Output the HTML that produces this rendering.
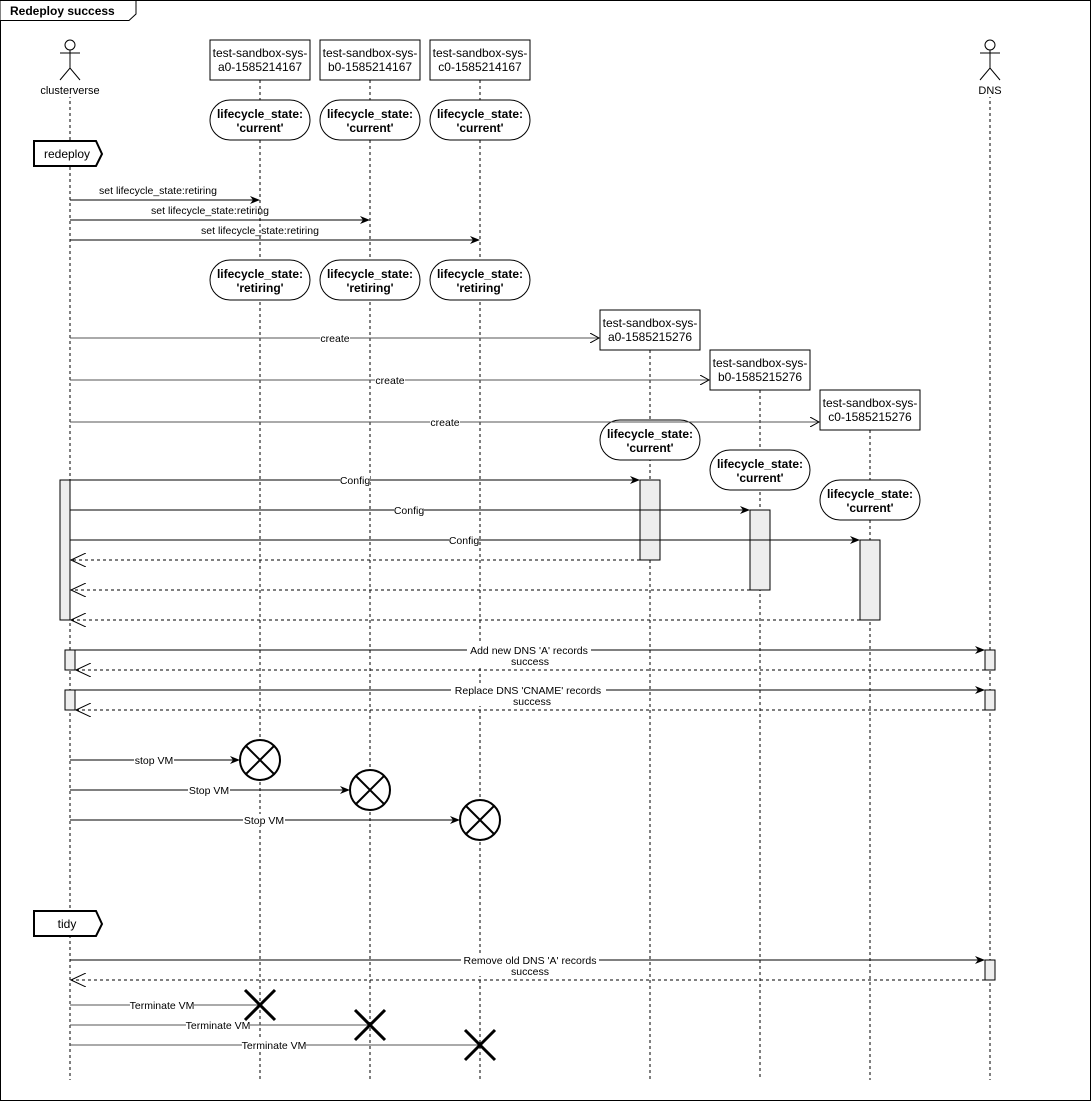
<!DOCTYPE html>
<html><head><meta charset="utf-8"><style>
html,body{margin:0;padding:0;background:#fff}
svg{display:block}
text{font-family:"Liberation Sans",sans-serif;font-size:11px;fill:#000}
.b{font-weight:bold;font-size:12px}
.lab{font-size:10.5px}
</style></head><body>
<svg width="1091" height="1101" viewBox="0 0 1091 1101" xmlns="http://www.w3.org/2000/svg">
<defs>
<marker id="fa" markerWidth="10" markerHeight="8" refX="9" refY="4" orient="auto" markerUnits="userSpaceOnUse"><path d="M0,0 L10,4 L0,8 L3,4 Z" fill="#000"/></marker>
<marker id="oa" markerWidth="10" markerHeight="10" refX="9" refY="5" orient="auto" markerUnits="userSpaceOnUse"><path d="M0,0 L9,5 L0,10" fill="none" stroke="#000" stroke-width="1"/></marker>
<marker id="ra" markerWidth="16" markerHeight="14" refX="15" refY="7" orient="auto" markerUnits="userSpaceOnUse"><path d="M0,0 L15,7 L0,14" fill="none" stroke="#000" stroke-width="1"/></marker>
</defs>
<rect x="0.5" y="0.5" width="1090" height="1100" fill="#fff" stroke="#000"/>
<path d="M0.5,0.5 H136 V14 L129,20.5 H0.5" fill="#fff" stroke="#000"/>
<text x="10" y="15" class="b">Redeploy success</text>

<g stroke="#000" stroke-dasharray="3,3" fill="none">
<line x1="70" y1="95" x2="70" y2="1080"/>
<line x1="990" y1="95" x2="990" y2="1080"/>
<line x1="260" y1="80" x2="260" y2="1080"/>
<line x1="370" y1="80" x2="370" y2="1080"/>
<line x1="480" y1="80" x2="480" y2="1080"/>
<line x1="650" y1="350" x2="650" y2="1080"/>
<line x1="760" y1="390" x2="760" y2="1080"/>
<line x1="870" y1="430" x2="870" y2="1080"/>
</g>

<g stroke="#000" fill="#fff">
<circle cx="70" cy="45" r="5"/><line x1="70" y1="50" x2="70" y2="68"/><line x1="60" y1="53" x2="80" y2="53"/><path d="M60,80 L70,68 L80,80" fill="none"/>
<circle cx="990" cy="45" r="5"/><line x1="990" y1="50" x2="990" y2="68"/><line x1="980" y1="53" x2="1000" y2="53"/><path d="M980,80 L990,68 L1000,80" fill="none"/>
</g>
<rect x="40" y="84" width="60" height="13" fill="#fff"/>
<text x="70" y="94" text-anchor="middle">clusterverse</text>
<rect x="975" y="84" width="30" height="13" fill="#fff"/>
<text x="990" y="94" text-anchor="middle">DNS</text>

<g fill="#fff" stroke="#000">
<rect x="210" y="40" width="100" height="40"/><rect x="320" y="40" width="100" height="40"/><rect x="430" y="40" width="100" height="40"/>
<rect x="600" y="310" width="100" height="40"/><rect x="710" y="350" width="100" height="40"/><rect x="820" y="390" width="100" height="40"/>
</g>
<g text-anchor="middle">
<text x="260" y="57" style="font-size:12px">test-sandbox-sys-</text><text x="260" y="71" style="font-size:12px">a0-1585214167</text>
<text x="370" y="57" style="font-size:12px">test-sandbox-sys-</text><text x="370" y="71" style="font-size:12px">b0-1585214167</text>
<text x="480" y="57" style="font-size:12px">test-sandbox-sys-</text><text x="480" y="71" style="font-size:12px">c0-1585214167</text>
<text x="650" y="327" style="font-size:12px">test-sandbox-sys-</text><text x="650" y="341" style="font-size:12px">a0-1585215276</text>
<text x="760" y="367" style="font-size:12px">test-sandbox-sys-</text><text x="760" y="381" style="font-size:12px">b0-1585215276</text>
<text x="870" y="407" style="font-size:12px">test-sandbox-sys-</text><text x="870" y="421" style="font-size:12px">c0-1585215276</text>
</g>

<g fill="#fff" stroke="#000">
<rect x="210" y="100" width="100" height="40" rx="20"/><rect x="320" y="100" width="100" height="40" rx="20"/><rect x="430" y="100" width="100" height="40" rx="20"/>
<rect x="210" y="260" width="100" height="40" rx="20"/><rect x="320" y="260" width="100" height="40" rx="20"/><rect x="430" y="260" width="100" height="40" rx="20"/>
<rect x="600" y="420" width="100" height="40" rx="20"/><rect x="710" y="450" width="100" height="40" rx="20"/><rect x="820" y="480" width="100" height="40" rx="20"/>
</g>
<g text-anchor="middle">
<text class="b" x="260" y="118">lifecycle_state:</text><text class="b" x="260" y="132">'current'</text>
<text class="b" x="370" y="118">lifecycle_state:</text><text class="b" x="370" y="132">'current'</text>
<text class="b" x="480" y="118">lifecycle_state:</text><text class="b" x="480" y="132">'current'</text>
<text class="b" x="260" y="278">lifecycle_state:</text><text class="b" x="260" y="292">'retiring'</text>
<text class="b" x="370" y="278">lifecycle_state:</text><text class="b" x="370" y="292">'retiring'</text>
<text class="b" x="480" y="278">lifecycle_state:</text><text class="b" x="480" y="292">'retiring'</text>
<text class="b" x="650" y="438">lifecycle_state:</text><text class="b" x="650" y="452">'current'</text>
<text class="b" x="760" y="468">lifecycle_state:</text><text class="b" x="760" y="482">'current'</text>
<text class="b" x="870" y="498">lifecycle_state:</text><text class="b" x="870" y="512">'current'</text>
</g>

<g fill="#fff" stroke="#000" stroke-width="2">
<path d="M34,141 H96 L102,154 L96,166 H34 Z"/>
<path d="M34,911 H96 L102,924 L96,936 H34 Z"/>
</g>
<text x="67" y="158" text-anchor="middle" style="font-size:12px">redeploy</text>
<text x="67" y="928" text-anchor="middle" style="font-size:12px">tidy</text>

<g stroke="#000" fill="none">
<line x1="70" y1="200" x2="259" y2="200" marker-end="url(#fa)"/>
<line x1="70" y1="220" x2="369" y2="220" marker-end="url(#fa)"/>
<line x1="70" y1="240" x2="479" y2="240" marker-end="url(#fa)"/>
</g>
<text class="lab" x="158" y="194" text-anchor="middle">set lifecycle_state:retiring</text>
<text class="lab" x="210" y="214" text-anchor="middle">set lifecycle_state:retiring</text>
<text class="lab" x="260" y="234" text-anchor="middle">set lifecycle_state:retiring</text>

<g stroke="#555" fill="none">
<line x1="70" y1="338" x2="599" y2="338" marker-end="url(#oa)"/>
<line x1="70" y1="380" x2="709" y2="380" marker-end="url(#oa)"/>
<line x1="70" y1="422" x2="819" y2="422" marker-end="url(#oa)"/>
</g>
<rect x="320" y="332" width="30" height="12" fill="#fff"/><text class="lab" x="335" y="342" text-anchor="middle">create</text>
<rect x="375" y="374" width="30" height="12" fill="#fff"/><text class="lab" x="390" y="384" text-anchor="middle">create</text>
<rect x="430" y="416" width="30" height="12" fill="#fff"/><text class="lab" x="445" y="426" text-anchor="middle">create</text>

<g fill="#eee" stroke="#000">
<rect x="60" y="480" width="10" height="140"/>
<rect x="640" y="480" width="20" height="80"/>
<rect x="750" y="510" width="20" height="80"/>
<rect x="860" y="540" width="20" height="80"/>
<rect x="65" y="650" width="10" height="20"/><rect x="985" y="650" width="10" height="20"/>
<rect x="65" y="690" width="10" height="20"/><rect x="985" y="690" width="10" height="20"/>
<rect x="985" y="960" width="10" height="20"/>
</g>

<g stroke="#000" fill="none">
<line x1="70" y1="480" x2="639" y2="480" marker-end="url(#fa)"/>
<line x1="70" y1="510" x2="749" y2="510" marker-end="url(#fa)"/>
<line x1="70" y1="540" x2="859" y2="540" marker-end="url(#fa)"/>
<g stroke-dasharray="3,3">
<line x1="640" y1="560" x2="71" y2="560" marker-end="url(#ra)"/>
<line x1="750" y1="590" x2="71" y2="590" marker-end="url(#ra)"/>
<line x1="860" y1="620" x2="71" y2="620" marker-end="url(#ra)"/>
<line x1="985" y1="670" x2="76" y2="670" marker-end="url(#ra)"/>
<line x1="985" y1="710" x2="76" y2="710" marker-end="url(#ra)"/>
<line x1="985" y1="980" x2="71" y2="980" marker-end="url(#ra)"/>
</g>
<line x1="75" y1="650" x2="984" y2="650" marker-end="url(#fa)"/>
<line x1="75" y1="690" x2="984" y2="690" marker-end="url(#fa)"/>
<line x1="70" y1="960" x2="984" y2="960" marker-end="url(#fa)"/>
</g>
<rect x="340" y="475" width="30" height="11" fill="#fff"/><text class="lab" x="355" y="484" text-anchor="middle">Config</text>
<rect x="394" y="505" width="30" height="11" fill="#fff"/><text class="lab" x="409" y="514" text-anchor="middle">Config</text>
<rect x="449" y="535" width="30" height="11" fill="#fff"/><text class="lab" x="464" y="544" text-anchor="middle">Config</text>
<rect x="467" y="644" width="124" height="22" fill="#fff"/><text class="lab" x="529" y="654" text-anchor="middle">Add new DNS 'A' records</text><text class="lab" x="530" y="665" text-anchor="middle">success</text>
<rect x="451" y="684" width="155" height="22" fill="#fff"/><text class="lab" x="528" y="694" text-anchor="middle">Replace DNS 'CNAME' records</text><text class="lab" x="532" y="705" text-anchor="middle">success</text>
<rect x="461" y="954" width="138" height="22" fill="#fff"/><text class="lab" x="530" y="964" text-anchor="middle">Remove old DNS 'A' records</text><text class="lab" x="530" y="975" text-anchor="middle">success</text>

<g stroke="#000" fill="none">
<line x1="70" y1="760" x2="239" y2="760" marker-end="url(#fa)"/>
<line x1="70" y1="790" x2="349" y2="790" marker-end="url(#fa)"/>
<line x1="70" y1="820" x2="459" y2="820" marker-end="url(#fa)"/>
<g stroke-width="2" fill="#fff">
<circle cx="260" cy="760" r="20"/><circle cx="370" cy="790" r="20"/><circle cx="480" cy="820" r="20"/>
</g>
<g stroke-width="2">
<path d="M246,746 L274,774 M274,746 L246,774"/>
<path d="M356,776 L384,804 M384,776 L356,804"/>
<path d="M466,806 L494,834 M494,806 L466,834"/>
</g>
</g>
<rect x="134" y="754" width="40" height="12" fill="#fff"/><text class="lab" x="154" y="764" text-anchor="middle">stop VM</text>
<rect x="188" y="784" width="42" height="12" fill="#fff"/><text class="lab" x="209" y="794" text-anchor="middle">Stop VM</text>
<rect x="243" y="814" width="42" height="12" fill="#fff"/><text class="lab" x="264" y="824" text-anchor="middle">Stop VM</text>

<g stroke="#555" fill="none">
<line x1="70" y1="1005" x2="260" y2="1005"/>
<line x1="70" y1="1025" x2="370" y2="1025"/>
<line x1="70" y1="1045" x2="480" y2="1045"/>
</g>
<rect x="130" y="999" width="64" height="12" fill="#fff"/><text class="lab" x="162" y="1009" text-anchor="middle">Terminate VM</text>
<rect x="186" y="1019" width="64" height="12" fill="#fff"/><text class="lab" x="218" y="1029" text-anchor="middle">Terminate VM</text>
<rect x="242" y="1039" width="64" height="12" fill="#fff"/><text class="lab" x="274" y="1049" text-anchor="middle">Terminate VM</text>
<g stroke="#000" stroke-width="3">
<path d="M245,990 L275,1020 M275,990 L245,1020"/>
<path d="M355,1010 L385,1040 M385,1010 L355,1040"/>
<path d="M465,1030 L495,1060 M495,1030 L465,1060"/>
</g>
</svg>
</body></html>
